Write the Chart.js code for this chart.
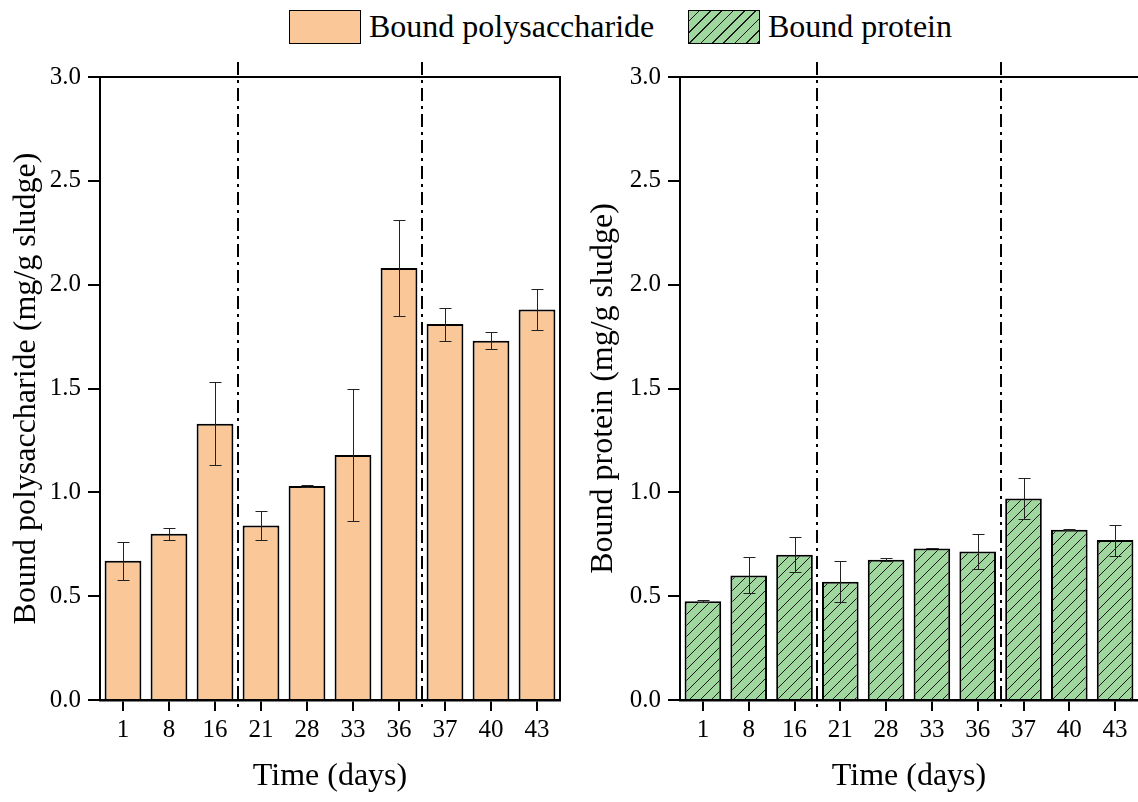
<!DOCTYPE html>
<html>
<head>
<meta charset="utf-8">
<script src="https://cdn.jsdelivr.net/npm/chart.js@4"></script>
<style>
  body { margin: 0; background: #fff; width: 1138px; height: 802px; overflow: hidden; position: relative; font-family: "Liberation Serif", "Times New Roman", serif; }
  .wrap { position: absolute; top: 0; }
  .sw { position: absolute; top: 10px; width: 72px; height: 34px; border: 1.5px solid #000; box-sizing: border-box; }
  .lab { position: absolute; top: 7px; font-size: 32px; line-height: 38px; color: #000; white-space: nowrap; }
  .sw.poly { left: 289px; background: #FAC898; }
  .sw.prot { left: 688px; background: repeating-linear-gradient(135deg, #9FD79F 0 6.5px, #1a1a1a 6.5px 7.7px, #9FD79F 7.7px 8px); }
</style>
</head>
<body>
<div class="sw poly"></div><span class="lab" style="left:369px">Bound polysaccharide</span>
<div class="sw prot"></div><span class="lab" style="left:768px">Bound protein</span>
<div class="wrap" style="left:0"><canvas id="chartPoly" width="580" height="802"></canvas></div>
<div class="wrap" style="left:575px"><canvas id="chartProt" width="563" height="802"></canvas></div>
<script>
const days = ['1', '8', '16', '21', '28', '33', '36', '37', '40', '43'];
const polyMean = [0.67, 0.80, 1.33, 0.84, 1.03, 1.18, 2.08, 1.81, 1.73, 1.88];
const polyErr = [0.09, 0.03, 0.20, 0.07, 0.005, 0.32, 0.23, 0.08, 0.04, 0.10];
const protMean = [0.475, 0.60, 0.70, 0.57, 0.675, 0.73, 0.715, 0.97, 0.82, 0.77];
const protErr = [0.005, 0.087, 0.085, 0.097, 0.008, 0, 0.083, 0.10, 0.003, 0.075];
// last day of each stage, a dash-dot line follows it
const stageEnds = ['16', '36'];
const yTicks = [0, 0.5, 1.0, 1.5, 2.0, 2.5, 3.0];

const serif = '"Liberation Serif", "Times New Roman", serif';

// hatch fill for protein bars
const makeHatch = () => {
    const c = document.createElement('canvas');
    c.width = 11; c.height = 11;
    const g = c.getContext('2d');
    g.fillStyle = '#9FD79F';
    g.fillRect(0, 0, 11, 11);
    g.strokeStyle = '#1a1a1a';
    g.lineWidth = 1;
    g.beginPath();
    g.moveTo(-1, 12); g.lineTo(12, -1);
    g.moveTo(-2, 1); g.lineTo(1, -2);
    g.moveTo(10, 13); g.lineTo(13, 10);
    g.stroke();
    return g.createPattern(c, 'repeat');
}

const extras = {
    id: 'extras',
    afterDatasetsDraw(chart, args, opts) {
        const ctx = chart.ctx;
        const area = chart.chartArea;
        const x = chart.scales.x;
        const y = chart.scales.y;
        const bars = chart.getDatasetMeta(0).data;
        ctx.save();
        // error bars
        ctx.strokeStyle = '#222';
        ctx.lineWidth = 1;
        bars.forEach((bar, i) => {
            const m = opts.mean[i], e = opts.err[i];
            const yt = Math.round(y.getPixelForValue(m + e)) + 0.5;
            const yb = Math.round(y.getPixelForValue(m - e)) + 0.5;
            const xc = Math.round(bar.x) + 0.5;
            ctx.beginPath();
            ctx.moveTo(xc, yt); ctx.lineTo(xc, yb);
            ctx.moveTo(xc - 6, yt); ctx.lineTo(xc + 6, yt);
            ctx.moveTo(xc - 6, yb); ctx.lineTo(xc + 6, yb);
            ctx.stroke();
        });
        // frame: top and right
        ctx.strokeStyle = '#000';
        ctx.lineWidth = 2;
        ctx.beginPath();
        ctx.moveTo(area.left, area.top);
        ctx.lineTo(area.right, area.top);
        if (opts.rightBorder) ctx.lineTo(area.right, area.bottom);
        ctx.stroke();
        // stage separators
        ctx.setLineDash([13, 5, 3, 5]);
        stageEnds.forEach(d => {
            const i = days.indexOf(d);
            const px = Math.round((x.getPixelForTick(i) + x.getPixelForTick(i + 1)) / 2);
            ctx.beginPath();
            ctx.moveTo(px, area.top - 15);
            ctx.lineTo(px, area.bottom + 8);
            ctx.stroke();
        });
        ctx.restore();
    }
};

const makeChart = (id, label, mean, err, fill, yTitle, yWidth, padRight, titlePad, rightBorder) => {
    return new Chart(document.getElementById(id), {
        type: 'bar',
        data: {
            labels: days,
            datasets: [{
                label: label,
                data: mean,
                backgroundColor: fill,
                borderColor: '#000',
                borderWidth: 2,
                barPercentage: 0.8,
                categoryPercentage: 1.0
            }]
        },
        options: {
            responsive: false,
            animation: false,
            layout: { padding: { top: 77, right: padRight, bottom: 0, left: 0 } },
            plugins: {
                legend: { display: false },
                tooltip: { enabled: false },
                extras: { mean: mean, err: err, rightBorder: rightBorder }
            },
            scales: {
                x: {
                    afterFit: s => { s.height = 102; },
                    grid: { offset: false, drawOnChartArea: false, color: '#000', lineWidth: 2, tickLength: 11 },
                    border: { color: '#000', width: 2.5 },
                    ticks: { color: '#000', padding: 4, font: { family: serif, size: 25 }, maxRotation: 0 },
                    title: { display: true, text: 'Time (days)', color: '#000', font: { family: serif, size: 32 }, padding: { top: 0, bottom: 6 } }
                },
                y: {
                    min: 0,
                    max: 3,
                    afterFit: s => { s.width = yWidth; },
                    afterBuildTicks: s => { s.ticks = yTicks.map(v => ({ value: v })); },
                    grid: { drawOnChartArea: false, color: '#000', lineWidth: 2, tickLength: 12 },
                    border: { color: '#000', width: 2 },
                    ticks: { color: '#000', padding: 7, font: { family: serif, size: 25 }, callback: v => v.toFixed(1) },
                    title: { display: true, text: yTitle, color: '#000', font: { family: serif, size: 32 }, padding: { top: titlePad, bottom: 0 } }
                }
            }
        },
        plugins: [extras]
    });
}

makeChart('chartPoly', 'Bound polysaccharide', polyMean, polyErr, '#FAC898',
    'Bound polysaccharide (mg/g sludge)', 100, 20, 7, true);
makeChart('chartProt', 'Bound protein', protMean, protErr, makeHatch(),
    'Bound protein (mg/g sludge)', 105, 0, 9, false);
</script>
</body>
</html>
